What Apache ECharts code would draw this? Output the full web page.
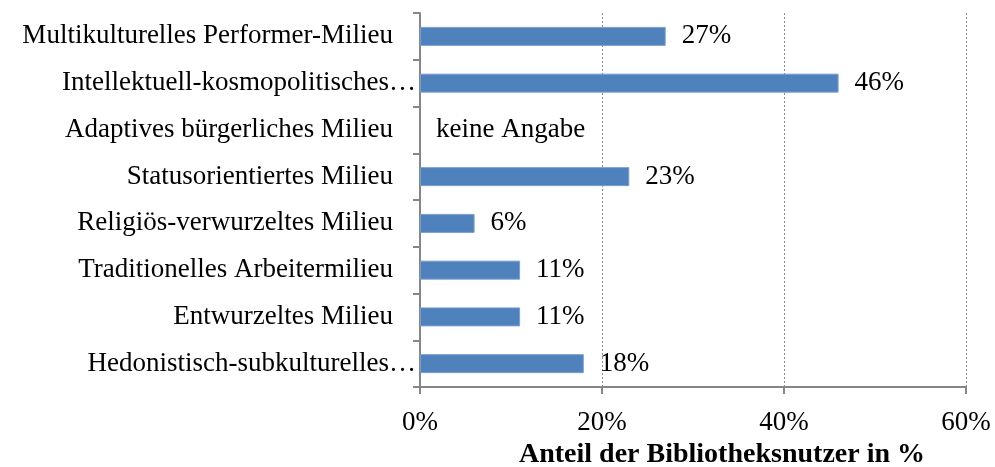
<!DOCTYPE html>
<html>
<head>
<meta charset="utf-8">
<script src="https://cdn.jsdelivr.net/npm/echarts@6/dist/echarts.min.js"></script>
<style>
  html, body { margin: 0; padding: 0; background: #fff; }
  #chart { width: 995px; height: 467px; }
</style>
</head>
<body>
<div id="chart"></div>
<script>
// categories from bottom to top (category axis on y starts at the bottom)
var categories = [
    'Hedonistisch-subkulturelles…',
    'Entwurzeltes Milieu',
    'Traditionelles Arbeitermilieu',
    'Religiös-verwurzeltes Milieu',
    'Statusorientiertes Milieu',
    'Adaptives bürgerliches Milieu',
    'Intellektuell-kosmopolitisches…',
    'Multikulturelles Performer-Milieu'
];
// null = keine Angabe
var values = [18, 11, 11, 6, 23, null, 46, 27];
var xTicks = [0, 20, 40, 60];
var axisTitle = 'Anteil der Bibliotheksnutzer in %';

var font = 'Liberation Serif';
var myChart = echarts.init(document.getElementById('chart'));

var data = values.map(function (v) {
    if (v === null) {
        return {value: 0, itemStyle: {color: 'transparent', borderWidth: 0}};
    }
    return {value: v};
});

// truncated labels run closer to the axis, like in Excel
var catData = categories.map(function (c) {
    if (c.charAt(c.length - 1) === '…') {
        return {value: c, textStyle: {padding: [0, -23, 0, 0]}};
    }
    return c;
});

var option = {
    animation: false,
    backgroundColor: '#fff',
    title: {
        text: axisTitle,
        left: 514,
        top: 436,
        textStyle: {fontFamily: font, fontSize: 28, fontWeight: 'bold', color: '#000'}
    },
    grid: {left: 420, right: 29, top: 13, bottom: 80},
    xAxis: {
        type: 'value',
        min: xTicks[0],
        max: xTicks[xTicks.length - 1],
        interval: 20,
        axisLine: {show: true, lineStyle: {color: '#868686', width: 2}},
        axisTick: {show: true, length: 7, lineStyle: {color: '#868686', width: 2}},
        axisLabel: {
            margin: 22,
            fontFamily: font,
            fontSize: 27,
            color: '#000',
            formatter: function (v) { return v + '%'; }
        },
        splitLine: {show: true, lineStyle: {color: '#8c8c8c', type: [2, 2], width: 1}}
    },
    yAxis: {
        type: 'category',
        data: catData,
        axisLine: {show: true, lineStyle: {color: '#868686', width: 2}},
        axisTick: {show: true, length: 7, lineStyle: {color: '#868686', width: 2}},
        axisLabel: {
            margin: 27,
            fontFamily: font,
            fontSize: 27,
            color: '#000'
        }
    },
    series: [{
        type: 'bar',
        data: data,
        barWidth: 19,
        itemStyle: {color: '#4F81BD', borderColor: '#7A9FCF', borderWidth: 1},
        label: {
            show: true,
            position: 'right',
            distance: 16,
            fontFamily: font,
            fontSize: 27,
            color: '#000',
            formatter: function (p) {
                return values[p.dataIndex] === null ? 'keine Angabe' : p.value + '%';
            }
        }
    }]
};

myChart.setOption(option);
</script>
</body>
</html>
